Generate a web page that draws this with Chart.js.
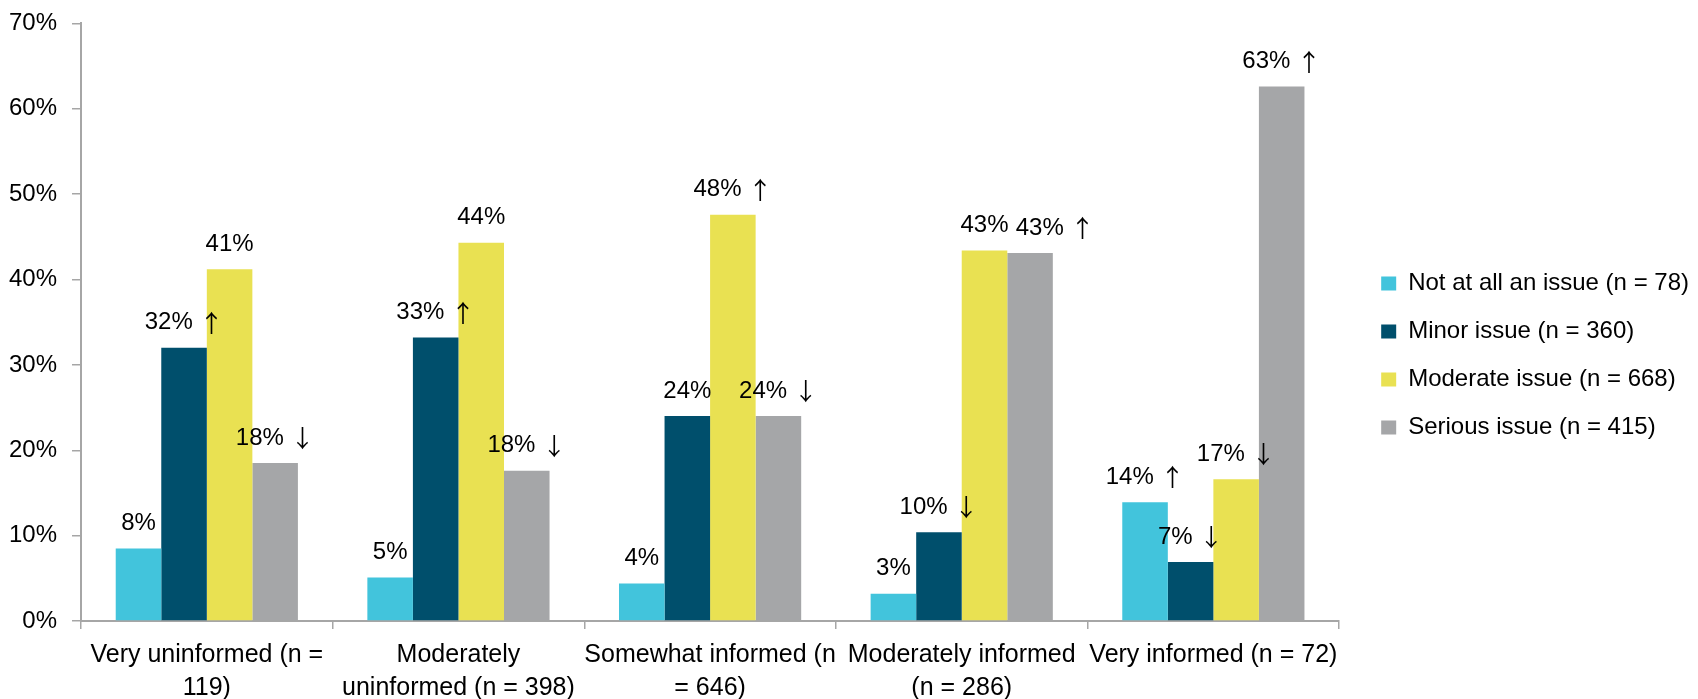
<!DOCTYPE html>
<html>
<head>
<meta charset="utf-8">
<script src="https://cdn.jsdelivr.net/npm/chart.js@4/dist/chart.umd.min.js"></script>
<style>
  html, body { margin: 0; padding: 0; background: #fff; }
  #wrap { width: 1698px; height: 699px; }
</style>
</head>
<body>
<div id="wrap"><canvas id="graph" width="1698" height="699"></canvas></div>
<script>
// categories (x-axis labels, already wrapped the way the original is)
const categories = [
  ["Very uninformed (n =", "119)"],
  ["Moderately", "uninformed (n = 398)"],
  ["Somewhat informed (n", "= 646)"],
  ["Moderately informed", "(n = 286)"],
  ["Very informed (n = 72)"]
];

const seriesNames = [
  "Not at all an issue (n = 78)",
  "Minor issue (n = 360)",
  "Moderate issue (n = 668)",
  "Serious issue (n = 415)"
];

// values in percent
const notAtAll = [8.5, 5.1, 4.4, 3.2, 13.9];
const minor = [32.0, 33.2, 24.0, 10.4, 6.9];
const moderate = [41.2, 44.3, 47.6, 43.4, 16.6];
const serious = [18.5, 17.6, 24.0, 43.1, 62.6];

// text shown above each bar
const notAtAllText = ["8%", "5%", "4%", "3%", "14% \u2191"];
const minorText = ["32% \u2191", "33% \u2191", "24%", "10% \u2193", "7% \u2193"];
const moderateText = ["41%", "44%", "48% \u2191", "43%", "17% \u2193"];
const seriousText = ["18% \u2193", "18% \u2193", "24% \u2193", "43% \u2191", "63% \u2191"];

const yTicks = [0, 10, 20, 30, 40, 50, 60, 70];

const colors = ["#42C4DC", "#004F6C", "#E9E152", "#A5A6A8"];
const axisColor = "#A6A6A6";
const fontFamily = "'Liberation Sans', Arial, sans-serif";
const arrowFont = "24px 'Noto Sans CJK JP', 'DejaVu Sans', sans-serif";

// the original moved one label sideways so it doesn't collide (dataset,index -> px)
const labelNudge = { "3,3": 25 };

//draws the value text over every bar (number + optional arrow)
const barLabels = {
  id: "barLabels",
  afterDatasetsDraw(chart) {
    const ctx = chart.ctx;
    const numFont = "24px " + fontFamily;
    ctx.save();
    ctx.fillStyle = "#000";
    ctx.textAlign = "left";
    ctx.textBaseline = "middle";
    chart.data.datasets.forEach((ds, i) => {
      chart.getDatasetMeta(i).data.forEach((bar, j) => {
        const parts = ds.valueText[j].split(" ");
        const y = bar.y - 25;
        ctx.font = numFont;
        const w1 = ctx.measureText(parts[0]).width;
        const ws = parts[1] ? ctx.measureText(" ").width : 0;
        ctx.font = arrowFont;
        const w2 = parts[1] ? ctx.measureText(parts[1]).width : 0;
        const x0 = bar.x + (labelNudge[i + "," + j] || 0) - (w1 + ws + w2) / 2;
        ctx.font = numFont;
        ctx.fillText(parts[0], x0, y);
        if (parts[1]) {
          ctx.font = arrowFont;
          ctx.fillText(parts[1], x0 + w1 + ws, y);
        }
      });
    });
    ctx.restore();
  }
};

//nudges the legend block to where the original has it
const legendShift = {
  id: "legendShift",
  afterLayout(chart) {
    const lg = chart.legend;
    const dx = 18, dy = -5;
    lg.left += dx; lg.right += dx;
    lg.top += dy; lg.bottom += dy;
  }
};

window.onload = function () {
  loadChart(document.querySelector("#graph"));
}

function loadChart(element) {
  const values = [notAtAll, minor, moderate, serious];
  const texts = [notAtAllText, minorText, moderateText, seriousText];

  new Chart(element, {
    type: "bar",
    data: {
      labels: categories,
      datasets: seriesNames.map((name, i) => ({
        label: name,
        data: values[i],
        valueText: texts[i],
        backgroundColor: colors[i],
        borderWidth: 0,
        categoryPercentage: 0.724,
        barPercentage: 1
      }))
    },
    options: {
      responsive: false,
      animation: false,
      layout: {
        padding: { top: 22, left: 9, right: 17, bottom: 0 }
      },
      plugins: {
        tooltip: { enabled: false },
        legend: {
          position: "right",
          align: "center",
          labels: {
            boxWidth: 15,
            boxHeight: 14,
            padding: 24,
            color: "#000",
            font: { family: fontFamily, size: 24 }
          }
        }
      },
      scales: {
        x: {
          afterFit: (scale) => { scale.height = 78; },
          grid: {
            display: true,
            drawOnChartArea: false,
            drawTicks: true,
            tickLength: 8,
            offset: true,
            color: axisColor,
            lineWidth: 1.5
          },
          border: { color: axisColor, width: 2 },
          ticks: {
            color: "#000",
            padding: 10,
            maxRotation: 0,
            autoSkip: false,
            font: { family: fontFamily, size: 25, lineHeight: 1.32 }
          }
        },
        y: {
          min: yTicks[0],
          max: yTicks[yTicks.length - 1],
          afterBuildTicks: (scale) => {
            scale.ticks = yTicks.map(v => ({ value: v }));
          },
          afterFit: (scale) => { scale.width = 72; },
          grid: {
            display: true,
            drawOnChartArea: false,
            drawTicks: true,
            tickLength: 9,
            color: axisColor,
            lineWidth: 1.5
          },
          border: { color: axisColor, width: 2 },
          ticks: {
            color: "#000",
            padding: 15,
            callback: (v) => v + "%",
            font: { family: fontFamily, size: 24, lineHeight: 0.7 }
          }
        }
      }
    },
    plugins: [barLabels, legendShift]
  });
}
</script>
</body>
</html>
